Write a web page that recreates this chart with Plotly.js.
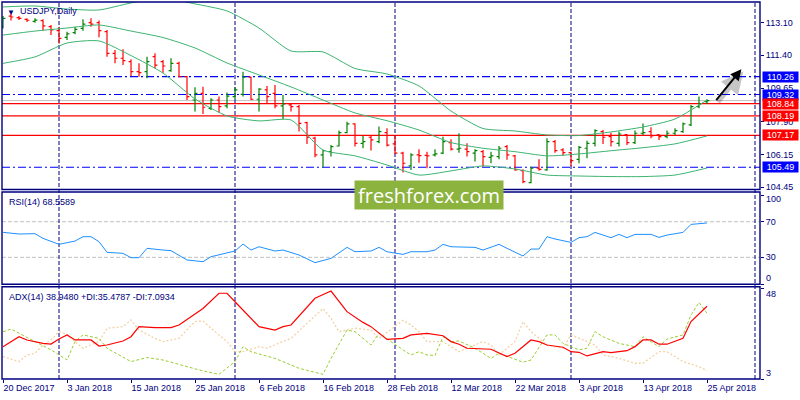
<!DOCTYPE html>
<html>
<head>
<meta charset="utf-8">
<script src="https://cdn.plot.ly/plotly-3.0.1.min.js"></script>
<style>
  html, body { margin: 0; padding: 0; background: #fff; }
  #chart { width: 800px; height: 400px; }
</style>
</head>
<body>
<div id="chart"></div>
<script>
// USDJPY daily, MT4-style: OHLC bars + Bollinger, RSI(14), ADX(14)

// ── data: one entry per trading day ──
const firstDay = '2017-12-20';
const holidays = ['2017-12-25', '2018-01-01'];

const opens = [
  112.89, 113.45, 113.37, 113.28, 113.17, 113.21, 112.89, 112.68, 112.33, 112.58,
  112.80, 113.10, 113.10, 112.63, 111.49, 111.23, 111.05, 110.52, 110.52, 111.31,
  111.05, 110.58, 110.96, 110.26, 109.03, 109.38, 108.59, 109.03, 108.72, 109.21,
  109.33, 110.23, 109.07, 109.56, 109.38, 108.72, 108.77, 108.68, 107.84, 107.02,
  106.14, 106.31, 106.61, 107.31, 107.77, 106.75, 107.07, 106.84, 107.31, 106.72,
  106.23, 105.56, 106.14, 106.12, 106.14, 106.23, 106.79, 106.44, 106.44, 106.23,
  106.31, 106.01, 106.05, 106.58, 106.09, 105.31, 104.68, 105.44, 105.35, 106.84,
  106.40, 106.26, 105.91, 106.49, 106.75, 107.37, 107.10, 106.75, 107.21, 106.79,
  107.28, 107.37, 107.19, 107.10, 107.28, 107.37, 107.72, 108.68, 108.94,
];
const highs = [
  113.45, 113.59, 113.45, 113.33, 113.33, 113.28, 112.98, 112.86, 112.63, 112.89,
  113.28, 113.33, 113.21, 112.72, 111.66, 111.70, 111.17, 110.96, 111.31, 111.49,
  111.14, 111.23, 111.05, 110.30, 109.70, 109.73, 109.12, 109.21, 109.42, 109.70,
  110.52, 110.26, 109.65, 109.77, 109.82, 109.30, 108.86, 108.77, 107.89, 107.10,
  106.40, 106.66, 107.42, 107.89, 107.80, 107.14, 107.14, 107.63, 107.54, 107.19,
  106.31, 106.23, 106.44, 106.31, 106.44, 107.10, 106.96, 107.28, 106.75, 106.44,
  106.40, 106.31, 106.61, 106.66, 106.14, 105.38, 105.52, 105.91, 107.02, 106.93,
  106.49, 106.31, 106.61, 106.89, 107.49, 107.45, 107.31, 107.37, 107.24, 107.42,
  107.80, 107.60, 107.24, 107.42, 107.54, 107.84, 108.77, 109.21, 109.07,
];
const lows = [
  112.80, 113.21, 113.24, 113.14, 113.10, 112.68, 112.45, 112.01, 112.19, 112.49,
  112.68, 112.89, 112.33, 111.31, 110.96, 110.87, 110.30, 110.26, 110.17, 110.70,
  110.47, 110.52, 110.23, 109.03, 108.42, 108.30, 108.50, 108.37, 108.59, 109.07,
  109.21, 109.03, 108.42, 108.86, 108.59, 108.02, 108.42, 107.37, 106.72, 106.02,
  105.49, 106.05, 106.58, 107.28, 106.58, 106.49, 106.37, 106.75, 106.58, 106.19,
  105.21, 105.35, 105.73, 105.44, 106.05, 106.19, 106.37, 106.26, 106.05, 105.79,
  105.52, 105.70, 105.91, 105.88, 105.31, 104.65, 104.65, 105.31, 105.31, 106.26,
  106.09, 105.56, 105.70, 105.96, 106.58, 106.72, 106.58, 106.58, 106.66, 106.72,
  107.19, 107.02, 106.93, 107.02, 107.19, 107.31, 107.66, 108.59, 108.82,
];
const closes = [
  113.33, 113.40, 113.33, 113.23, 113.24, 112.93, 112.72, 112.28, 112.51, 112.75,
  113.03, 113.03, 112.68, 111.49, 111.23, 111.10, 110.52, 110.47, 111.05, 110.87,
  110.82, 110.96, 110.26, 109.21, 109.38, 108.65, 109.03, 108.68, 109.24, 109.56,
  110.23, 109.07, 109.60, 109.21, 108.72, 108.82, 108.68, 107.80, 107.07, 106.14,
  106.37, 106.58, 107.31, 107.77, 106.75, 106.84, 106.93, 107.37, 106.66, 106.23,
  105.70, 106.14, 106.10, 106.09, 106.19, 106.84, 106.44, 106.49, 106.31, 106.37,
  106.05, 106.09, 106.49, 106.14, 105.35, 104.73, 105.44, 105.38, 106.84, 106.37,
  106.26, 105.84, 106.54, 106.75, 107.42, 107.07, 106.84, 107.24, 106.79, 107.28,
  107.31, 107.14, 107.10, 107.28, 107.42, 107.77, 108.68, 108.82, 109.00,
];

// Bollinger bands, read at every 4th bar
const bandIdx = [0, 4, 8, 12, 16, 20, 24, 28, 32, 36, 40, 44, 48, 52, 56, 60, 64, 68, 72, 76, 80, 84, 88];
const bbUpper = [113.93, 113.98, 113.82, 113.77, 114.14, 114.40, 114.09, 113.72, 112.82, 111.61, 111.56, 110.69,
  110.40, 109.77, 108.45, 107.53, 107.40, 107.19, 107.16, 107.35, 107.61, 108.03, 109.03];
const bbMiddle = [112.45, 112.66, 112.82, 112.98, 112.66, 112.32, 111.77, 110.98, 110.35, 109.72, 109.03, 108.35,
  107.94, 107.45, 106.79, 106.49, 106.31, 106.09, 106.19, 106.36, 106.52, 106.72, 107.14];
const bbLower = [110.96, 111.30, 112.03, 112.14, 111.37, 110.45, 109.09, 108.19, 107.93, 107.98, 106.40, 106.09,
  105.61, 105.08, 105.30, 105.56, 105.40, 105.08, 105.03, 105.00, 105.00, 105.08, 105.45];

// RSI(14)
const rsiIdx = [0, 2, 4, 5, 7, 9, 10, 11, 12, 13, 15, 16, 17, 18, 20, 21, 23, 25, 26, 29, 30, 31, 32, 34, 35, 37,
  39, 41, 43, 44, 46, 47, 48, 50, 51, 53, 54, 55, 56, 58, 59, 60, 62, 63, 65, 66, 67, 68, 69, 71, 72, 73, 74, 76,
  77, 78, 79, 81, 82, 83, 85, 86, 88];
const rsiVals = [58.1, 56.2, 56.6, 51.3, 44.6, 48.3, 53.2, 53.2, 47.6, 35.6, 34.5, 29.6, 29.6, 40.1, 38.2, 37.5,
  27.0, 25.1, 30.7, 37.1, 44.9, 38.2, 41.9, 37.1, 38.2, 32.6, 24.0, 28.8, 41.2, 36.3, 37.1, 41.2, 36.3, 33.3, 36.3,
  36.3, 38.2, 44.6, 41.9, 41.2, 41.2, 38.2, 44.6, 40.1, 31.5, 39.3, 39.3, 53.2, 50.6, 46.8, 52.1, 53.2, 58.0, 52.1,
  55.8, 52.1, 55.8, 55.8, 52.4, 55.0, 58.0, 67.0, 68.6];

// ADX(14) with +DI / -DI
const adxIdx = [0, 2, 3, 5, 6, 7, 8, 9, 11, 12, 13, 15, 16, 17, 19, 21, 22, 25, 27, 28, 29, 31, 32, 34, 35, 36, 39,
  41, 43, 45, 46, 48, 50, 51, 52, 53, 55, 56, 57, 58, 61, 63, 64, 65, 66, 67, 68, 70, 71, 72, 73, 75, 76, 78, 79,
  80, 81, 82, 83, 85, 86, 88];
const adxVals = [19.0, 23.9, 22.3, 20.6, 20.3, 22.8, 24.8, 22.3, 22.3, 19.3, 19.8, 21.8, 23.9, 28.9, 28.4, 28.4,
  29.7, 37.9, 45.4, 45.4, 41.2, 33.0, 28.9, 27.2, 28.9, 29.7, 42.9, 46.5, 36.3, 31.0, 28.9, 22.6, 23.1, 24.8, 25.1,
  25.6, 24.4, 21.5, 20.2, 18.2, 17.7, 14.1, 15.7, 19.0, 22.3, 21.5, 19.8, 18.7, 16.5, 16.2, 14.4, 16.5, 16.0, 17.0,
  19.0, 22.3, 22.3, 20.2, 20.2, 23.1, 31.4, 38.95];
const pdiIdx = [0, 1, 2, 4, 6, 8, 9, 10, 12, 13, 16, 18, 20, 23, 25, 27, 29, 30, 31, 34, 37, 40, 41, 43, 44, 46, 47,
  50, 51, 52, 53, 54, 55, 56, 57, 59, 61, 62, 63, 65, 66, 68, 69, 70, 72, 73, 74, 75, 77, 78, 79, 80, 81, 82, 83,
  85, 86, 87, 88];
const pdiVals = [26.4, 27.7, 25.6, 21.5, 17.4, 12.4, 21.5, 24.8, 23.1, 18.2, 11.6, 13.6, 12.4, 9.1, 7.0, 5.3, 11.6,
  19.0, 16.5, 13.2, 8.3, 5.3, 13.2, 27.2, 26.4, 19.8, 25.6, 17.4, 14.9, 16.5, 14.9, 14.6, 23.9, 21.5, 21.8, 18.2,
  13.2, 15.7, 14.1, 11.3, 12.4, 24.8, 24.8, 20.6, 17.4, 18.2, 26.4, 23.9, 20.6, 19.8, 19.0, 23.9, 21.5, 19.0, 22.8,
  24.8, 34.6, 40.9, 35.48];
const mdiIdx = [0, 2, 3, 4, 5, 6, 7, 8, 9, 10, 12, 13, 15, 16, 17, 19, 20, 22, 24, 25, 26, 28, 29, 30, 32, 33, 35,
  36, 38, 40, 41, 42, 44, 46, 47, 50, 51, 52, 53, 55, 57, 60, 61, 62, 64, 65, 66, 68, 70, 71, 73, 74, 75, 77, 79,
  80, 82, 83, 84, 85, 87, 88];
const mdiVals = [14.1, 11.6, 14.9, 15.7, 19.8, 22.3, 26.4, 25.1, 21.5, 18.2, 21.5, 28.1, 28.9, 32.2, 27.2, 23.1,
  21.5, 23.1, 31.4, 31.7, 28.1, 21.5, 16.5, 16.5, 19.0, 18.2, 21.5, 23.1, 30.5, 37.9, 33.0, 26.4, 28.1, 27.2, 23.1,
  32.0, 29.7, 26.4, 21.5, 21.5, 16.5, 21.5, 19.8, 14.9, 21.5, 31.4, 26.4, 19.8, 18.2, 24.8, 21.5, 19.8, 14.9, 13.2,
  10.8, 10.8, 16.5, 16.5, 14.1, 11.6, 9.1, 7.09];

// drawn objects / scale labels
const blueLevels = [110.26, 109.32, 105.49];
const redLevels = [108.84, 108.19, 107.17];
const priceTicks = [113.10, 111.40, 109.65, 107.90, 106.15, 104.45];
const rsiLevels = [70, 30];
const rsiEdges = [100, 0];
const adxEdges = [48, 3];
const arrowFrom = [89, 108.94];
const arrowTo = [92.3, 110.65];
const rsiText = 'RSI(14) 68.5589';
const adxText = 'ADX(14) 38.9480 +DI:35.4787 -DI:7.0934';

// ── style ──
const NAVY = '#000080';
const FONT = '"Liberation Sans", Arial, sans-serif';
const C = {
  up: '#008000', down: '#ff0000', band: '#3cb371', rsi: '#1e90ff',
  adx: '#ff0000', pdi: '#9acd32', mdi: '#f2d2a4', blue: '#0000ff', red: '#ff0000', bid: '#c0c0c0',
};
const DOM = { main: [0.5027, 1], rsi: [0.2512, 0.496], adx: [0, 0.2448] };

// trading calendar (weekdays minus holidays)
function tradingDays(start, n, skip) {
  const out = [];
  const d = new Date(start + 'T00:00:00Z');
  while (out.length < n) {
    const wd = d.getUTCDay();
    if (wd !== 0 && wd !== 6 && !skip.includes(d.toISOString().slice(0, 10))) out.push(new Date(d));
    d.setUTCDate(d.getUTCDate() + 1);
  }
  return out;
}
const MON = ['Jan', 'Feb', 'Mar', 'Apr', 'May', 'Jun', 'Jul', 'Aug', 'Sep', 'Oct', 'Nov', 'Dec'];
const days = tradingDays(firstDay, closes.length, holidays);
const idx = closes.map((_, i) => i);
const tickIdx = idx.filter((i) => i % 8 === 0);
const tickText = tickIdx.map((i) => `${days[i].getUTCDate()} ${MON[days[i].getUTCMonth()]} ${days[i].getUTCFullYear()}`);

// period separators: first bar of each month, plus the next one in the shifted area
const seps = [];
for (let i = 1; i < days.length; i++) {
  if (days[i].getUTCMonth() !== days[i - 1].getUTCMonth()) seps.push(i);
}
const last = days[days.length - 1];
const nextMonth = Date.UTC(last.getUTCFullYear(), last.getUTCMonth() + 1, 1);
seps.push(days.length - 1 + Math.round((nextMonth - last.getTime()) / 86400000));

const line = (x, y, yaxis, color, extra = {}) => ({
  type: 'scatter', mode: 'lines', x, y, yaxis, hoverinfo: 'skip',
  line: { color, width: 1, ...extra },
});

const traces = [
  line(bandIdx, bbUpper, 'y', C.band, { shape: 'spline', smoothing: 0.6 }),
  line(bandIdx, bbMiddle, 'y', C.band, { shape: 'spline', smoothing: 0.6 }),
  line(bandIdx, bbLower, 'y', C.band, { shape: 'spline', smoothing: 0.6 }),
  {
    type: 'ohlc', x: idx, open: opens, high: highs, low: lows, close: closes,
    increasing: { line: { color: C.up, width: 1.2 } },
    decreasing: { line: { color: C.down, width: 1.2 } },
    tickwidth: 0.3, hoverinfo: 'skip',
  },
  line(rsiIdx, rsiVals, 'y2', C.rsi),
  line(mdiIdx, mdiVals, 'y3', C.mdi, { dash: '2px,2px', width: 1.3 }),
  line(pdiIdx, pdiVals, 'y3', C.pdi, { dash: '3px,2px' }),
  line(adxIdx, adxVals, 'y3', C.adx, { width: 1.2 }),
];

const shapes = [];
const hline = (y, yref, color, dash, width = 1.2) => shapes.push({
  type: 'line', xref: 'paper', x0: 0, x1: 1, yref, y0: y, y1: y, layer: 'below',
  line: { color, width, dash },
});
hline(closes[closes.length - 1], 'y', C.bid, 'solid', 1);
blueLevels.forEach((v) => hline(v, 'y', C.blue, '8px,3px,2px,3px'));
redLevels.forEach((v) => hline(v, 'y', C.red, 'solid'));
rsiLevels.forEach((v) => hline(v, 'y2', C.bid, '4px,2px', 1));
seps.forEach((i) => shapes.push({
  type: 'line', xref: 'x', x0: i, x1: i, yref: 'paper', y0: 0, y1: 1, layer: 'below',
  line: { color: NAVY, width: 1, dash: '4px,2px' },
}));
Object.values(DOM).forEach(([y0, y1]) => shapes.push({
  type: 'rect', xref: 'paper', yref: 'paper', x0: 0, x1: 1, y0, y1, layer: 'above',
  line: { color: NAVY, width: 1.4 },
}));

const txt = (size = 9, color = NAVY) => ({ family: FONT, size, color });
const annotations = [
  { xref: 'paper', yref: 'paper', x: 0.004, y: 1, xanchor: 'left', yanchor: 'top', yshift: -4,
    text: '▼', showarrow: false, font: txt(8) },
  { xref: 'paper', yref: 'paper', x: 0.021, y: 1, xanchor: 'left', yanchor: 'top', yshift: -2,
    text: 'USDJPY,Daily', showarrow: false, font: txt(9) },
  { xref: 'paper', yref: 'paper', x: 0.006, y: DOM.rsi[1], xanchor: 'left', yanchor: 'top', yshift: -3,
    text: rsiText, showarrow: false, font: txt(9) },
  { xref: 'paper', yref: 'paper', x: 0.006, y: DOM.adx[1], xanchor: 'left', yanchor: 'top', yshift: -3,
    text: adxText, showarrow: false, font: txt(9) },
];
// level tags on the price scale
[...blueLevels.map((v) => [v, C.blue]), ...redLevels.map((v) => [v, C.red])].forEach(([v, bg]) => annotations.push({
  xref: 'paper', x: 1, xanchor: 'left', xshift: 2, yref: 'y', y: v, yanchor: 'middle',
  text: v.toFixed(2), showarrow: false, bgcolor: bg, borderpad: 0, width: 35, height: 10,
  font: txt(9, '#ffffff'),
}));
// edge labels of the indicator windows sit just inside the frame, as in MT4
const edge = (v, yref, shift) => annotations.push({
  xref: 'paper', x: 1, xanchor: 'left', xshift: 4, yref, y: v, yanchor: 'middle', yshift: shift,
  text: String(v), showarrow: false, font: txt(9),
});
edge(rsiEdges[0], 'y2', -4); edge(rsiEdges[1], 'y2', 6);
edge(adxEdges[0], 'y3', -6); edge(adxEdges[1], 'y3', 6);
// forecast arrow with its soft shadow
[['rgba(0,0,0,0.22)', 4, 2, -2], ['#000000', 2, 0, 0]].forEach(([color, w, dx, dy]) => annotations.push({
  xref: 'x', yref: 'y', x: arrowTo[0], y: arrowTo[1], axref: 'x', ayref: 'y', ax: arrowFrom[0], ay: arrowFrom[1],
  showarrow: true, arrowhead: 2, arrowsize: 1.1, arrowwidth: w, arrowcolor: color, text: '',
  xshift: dx, yshift: dy,
}));
// watermark
annotations.push({
  xref: 'paper', yref: 'paper', x: 0.5633, y: 0.488, xanchor: 'center', yanchor: 'middle',
  text: 'freshforex.com', showarrow: false, bgcolor: '#8db33f', width: 148, height: 28, borderpad: 0,
  font: { family: '"Open Sans", sans-serif', size: 20, color: '#ffffff' },
});

const yBase = {
  side: 'right', anchor: 'x', showgrid: false, zeroline: false, showline: false,
  ticks: 'outside', ticklen: 3, tickcolor: NAVY, tickfont: txt(9), fixedrange: true,
};

const layout = {
  width: 800, height: 400,
  margin: { l: 2, r: 40, t: 2, b: 21 },
  paper_bgcolor: '#ffffff', plot_bgcolor: '#ffffff',
  showlegend: false, hovermode: false,
  xaxis: {
    anchor: 'y3', range: [-0.125, 94.625], rangeslider: { visible: false },
    tickvals: tickIdx, ticktext: tickText, ticklabelposition: 'outside right',
    ticks: 'outside', ticklen: 3, tickcolor: NAVY, tickfont: txt(9),
    showgrid: false, zeroline: false, showline: false,
  },
  yaxis: { ...yBase, domain: DOM.main, range: [104.32, 114.19],
    tickvals: priceTicks, ticktext: priceTicks.map((v) => v.toFixed(2)) },
  yaxis2: { ...yBase, domain: DOM.rsi, range: [-0.3, 103.4],
    tickvals: [...rsiEdges, ...rsiLevels], ticktext: ['', '', ...rsiLevels.map(String)] },
  yaxis3: { ...yBase, domain: DOM.adx, range: [3, 48.64],
    tickvals: adxEdges, ticktext: ['', ''] },
  shapes, annotations,
};

Plotly.newPlot('chart', traces, layout, { staticPlot: true, displayModeBar: false });
</script>
</body>
</html>
